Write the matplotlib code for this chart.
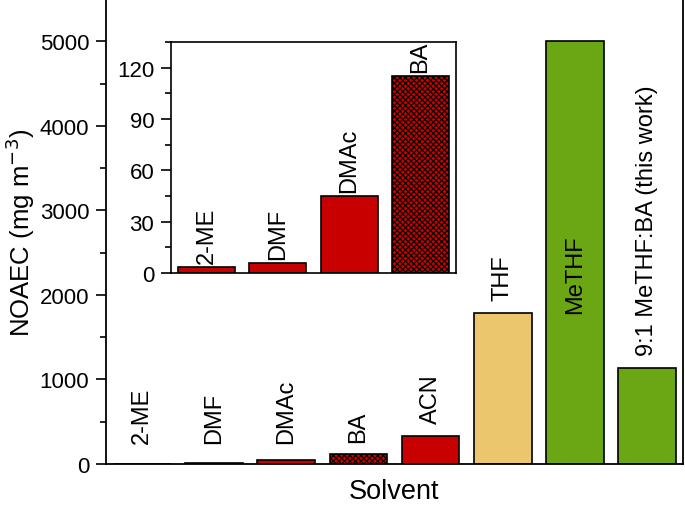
import numpy as np
import matplotlib
matplotlib.use("Agg")
import matplotlib.pyplot as plt
from matplotlib.ticker import MultipleLocator

plt.rcParams['font.family'] = ['Liberation Sans', 'DejaVu Sans']
plt.rcParams['hatch.linewidth'] = 0.8

solvents = ['2-ME', 'DMF', 'DMAc', 'BA', 'ACN', 'THF', 'MeTHF', '9:1 MeTHF:BA (this work)']
noaec = [3.5, 6, 45, 115, 336, 1790, 5000, 1140]
colors = ['#c80000'] * 5 + ['#ebc66c', '#6ba615', '#6ba615']
hatches = ['', '', '', 'xxxxxx', '', '', '', '']

inset_solvents = solvents[:4]
inset_noaec = noaec[:4]

fig = plt.figure(figsize=(6.85, 5.06), dpi=100)
ax = fig.add_axes([106/685, 41/506, 577/685, 465/506])

x = np.arange(len(solvents))
bars = ax.bar(x, noaec, width=0.8, color=colors, edgecolor='black', linewidth=1.2)
for b, h in zip(bars, hatches):
    b.set_hatch(h)

for xi, v, name in zip(x, noaec, solvents):
    if name == 'MeTHF':
        ax.text(xi, v * 0.45, name, rotation=90, ha='center', va='center', fontsize=17)
    else:
        ax.annotate(name, (xi, max(v, 100)), xytext=(0, 9), textcoords='offset points',
                    rotation=90, ha='center', va='bottom', fontsize=17)

ax.set_xlim(-0.5, 7.5)
ax.set_ylim(0, 5500)
ax.set_xticks([])
ax.yaxis.set_major_locator(MultipleLocator(1000))
ax.yaxis.set_minor_locator(MultipleLocator(500))
ax.tick_params(axis='y', which='major', direction='out', length=7, width=1.2, labelsize=16, pad=5)
ax.tick_params(axis='y', which='minor', direction='out', length=4, width=1.2)
ax.spines['top'].set_visible(False)
for s in ['left', 'bottom', 'right']:
    ax.spines[s].set_linewidth(1.3)
ax.set_ylabel('NOAEC (mg m$^{-3}$)', fontsize=18.5, labelpad=2)
ax.set_xlabel('Solvent', fontsize=19.5, labelpad=10)

# inset for the small values
axi = fig.add_axes([171/685, 232/506, 285/685, 231/506])
xi_pos = np.arange(len(inset_solvents))
ibars = axi.bar(xi_pos, inset_noaec, width=0.8, color=colors[:4], edgecolor='black', linewidth=1.2)
for b, h in zip(ibars, hatches[:4]):
    b.set_hatch(h)
for xi, v, name in zip(xi_pos, inset_noaec, inset_solvents):
    axi.annotate(name, (xi, v), xytext=(0, 3), textcoords='offset points',
                 rotation=90, ha='center', va='bottom', fontsize=17)
axi.set_xlim(-0.5, 3.5)
axi.set_ylim(0, 135)
axi.set_xticks([])
axi.yaxis.set_major_locator(MultipleLocator(30))
axi.yaxis.set_minor_locator(MultipleLocator(15))
axi.tick_params(axis='y', which='major', direction='out', length=7, width=1.2, labelsize=16, pad=5)
axi.tick_params(axis='y', which='minor', direction='out', length=4, width=1.2)
for s in axi.spines.values():
    s.set_linewidth(1.2)

fig.savefig('out.png', dpi=100)
